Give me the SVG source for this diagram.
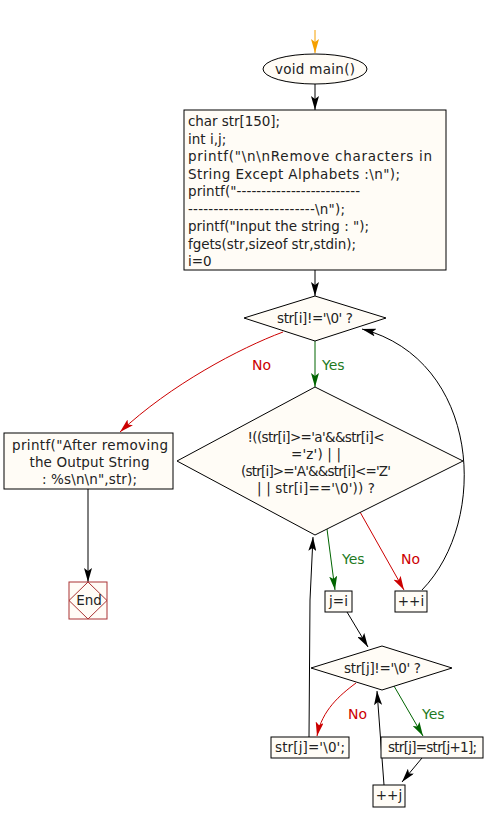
<svg xmlns="http://www.w3.org/2000/svg" width="492" height="822" viewBox="0 0 492 822">
<defs>
<marker id="ab" markerWidth="14" markerHeight="8" refX="14" refY="4" orient="auto" markerUnits="userSpaceOnUse" viewBox="0 0 14 8"><path d="M0,0 L14,4 L0,8 L3,4 Z" fill="#000"/></marker>
<marker id="ag" markerWidth="14" markerHeight="8" refX="14" refY="4" orient="auto" markerUnits="userSpaceOnUse" viewBox="0 0 14 8"><path d="M0,0 L14,4 L0,8 L3,4 Z" fill="#006400"/></marker>
<marker id="ar" markerWidth="14" markerHeight="8" refX="14" refY="4" orient="auto" markerUnits="userSpaceOnUse" viewBox="0 0 14 8"><path d="M0,0 L14,4 L0,8 L3,4 Z" fill="#cc0000"/></marker>
<marker id="ao" markerWidth="14" markerHeight="8" refX="14" refY="4" orient="auto" markerUnits="userSpaceOnUse" viewBox="0 0 14 8"><path d="M0,0 L14,4 L0,8 L3,4 Z" fill="#f5a000"/></marker>
</defs>
<style>
.s{fill:#fffcf6;stroke:#000;stroke-width:1}
.t{font-family:"DejaVu Sans",Verdana,sans-serif;font-size:13.5px;fill:#222}
.c{text-anchor:middle}
.k{fill:none;stroke:#000;stroke-width:1}
.g{fill:none;stroke:#006400;stroke-width:1}
.r{fill:none;stroke:#cc0000;stroke-width:1}
.lg{font-family:"DejaVu Sans",Verdana,sans-serif;font-size:14px;fill:#1e7a1e}
.lr{font-family:"DejaVu Sans",Verdana,sans-serif;font-size:14px;fill:#cc0000}
</style>
<rect width="492" height="822" fill="#fff"/>
<g id="connectors">
<path d="M315,30 L315,53" fill="none" stroke="#f5a000" stroke-width="1" marker-end="url(#ao)"/>
<path class="k" d="M315,84 L315,110" marker-end="url(#ab)"/>
<path class="k" d="M315,270 L315,296" marker-end="url(#ab)"/>
<path class="g" d="M315,341 L315,387" marker-end="url(#ag)"/>
<path class="r" d="M283,332 C240,348 170,385 120,432" marker-end="url(#ar)"/>
<path class="k" d="M88,489 L88,582" marker-end="url(#ab)"/>
<path class="g" d="M327,529 L335,590" marker-end="url(#ag)"/>
<path class="r" d="M360,512 L404,590" marker-end="url(#ar)"/>
<path class="k" d="M422,590 C490,520 480,360 362,329" marker-end="url(#ab)"/>
<path class="k" d="M347,612 L368,647" marker-end="url(#ab)"/>
<path class="r" d="M356,683 C340,695 322,710 317,736" marker-end="url(#ar)"/>
<path class="g" d="M394,686 L423,736" marker-end="url(#ag)"/>
<path class="k" d="M422,758 L402,782" marker-end="url(#ab)"/>
<path class="k" d="M384,785 L377,691" marker-end="url(#ab)"/>
<path class="k" d="M309,737 L310,600 L313,537" marker-end="url(#ab)"/>
<text class="lr" x="252" y="370">No</text>
<text class="lg" x="322" y="370">Yes</text>
<text class="lg" x="342" y="564">Yes</text>
<text class="lr" x="401" y="564">No</text>
<text class="lr" x="348" y="719">No</text>
<text class="lg" x="422" y="719">Yes</text>
</g>
<g id="start">
<ellipse class="s" cx="315" cy="69" rx="52" ry="15"/>
<text class="t" x="275" y="74" textLength="80">void main()</text>
</g>
<g id="init">
<rect class="s" x="184" y="110" width="262" height="160"/>
<text class="t" x="188" y="126" textLength="92">char str[150];</text>
<text class="t" x="188" y="143.5">int i,j;</text>
<text class="t" x="188" y="161" textLength="244">printf("\n\nRemove characters in</text>
<text class="t" x="188" y="178.5" textLength="212">String Except Alphabets :\n");</text>
<text class="t" x="188" y="196" textLength="172">printf("-------------------------</text>
<text class="t" x="188" y="213.5" textLength="157">-------------------------\n");</text>
<text class="t" x="188" y="231" textLength="181">printf("Input the string : ");</text>
<text class="t" x="188" y="248.5" textLength="168">fgets(str,sizeof str,stdin);</text>
<text class="t" x="188" y="266">i=0</text>
</g>
<g id="cond1">
<path class="s" d="M315,296 L386,318 L315,341 L244,318 Z"/>
<text class="t" x="277" y="323" textLength="76">str[i]!='\0' ?</text>
</g>
<g id="cond2">
<path class="s" d="M315,387 L463,461 L315,535 L177,461 Z"/>
<text class="t" x="247.5" y="442" textLength="137">!((str[i]&gt;='a'&amp;&amp;str[i]&lt;</text>
<text class="t" x="291" y="459" textLength="50">='z') | |</text>
<text class="t" x="241" y="476" textLength="150">(str[i]&gt;='A'&amp;&amp;str[i]&lt;='Z'</text>
<text class="t" x="257" y="493" textLength="118">| | str[i]=='\0')) ?</text>
</g>
<g id="print">
<rect class="s" x="4" y="433" width="169" height="56"/>
<text class="t" x="12" y="450" textLength="156">printf("After removing</text>
<text class="t" x="29.5" y="467" textLength="120">the Output String</text>
<text class="t" x="42" y="484" textLength="95">: %s\n\n",str);</text>
</g>
<g id="end">
<rect x="69" y="582" width="38" height="37" fill="#fffcf6" stroke="#a33" stroke-width="1"/>
<path d="M88,582 L107,600.5 L88,619 L69,600.5 Z" fill="none" stroke="#a33" stroke-width="1"/>
<text class="t c" x="89" y="605">End</text>
</g>
<g id="ji">
<rect class="s" x="325" y="591" width="27" height="21"/>
<text class="t c" x="338.5" y="606">j=i</text>
</g>
<g id="inci">
<rect class="s" x="395" y="591" width="32" height="21"/>
<text class="t c" x="411" y="606">++i</text>
</g>
<g id="cond3">
<path class="s" d="M382,646 L452,668 L382,690 L311,668 Z"/>
<text class="t" x="344" y="673" textLength="77">str[j]!='\0' ?</text>
</g>
<g id="term">
<rect class="s" x="271" y="737" width="78" height="21"/>
<text class="t" x="275" y="752" textLength="70">str[j]='\0';</text>
</g>
<g id="shift">
<rect class="s" x="381" y="737" width="102" height="21"/>
<text class="t" x="388" y="752" textLength="89">str[j]=str[j+1];</text>
</g>
<g id="incj">
<rect class="s" x="373" y="785" width="32" height="22"/>
<text class="t c" x="389" y="800">++j</text>
</g>
</svg>
